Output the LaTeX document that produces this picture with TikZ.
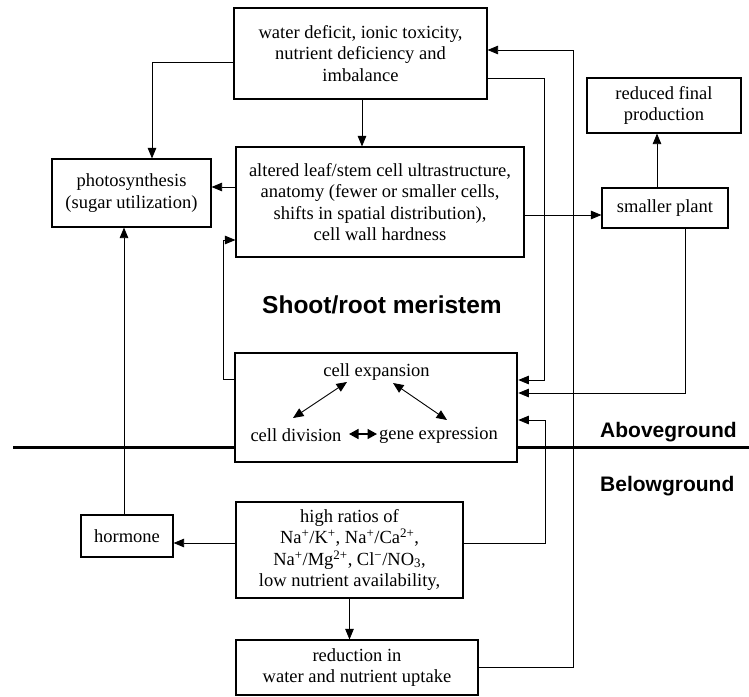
\documentclass[tikz,border=0pt]{standalone}
\usepackage{fontspec}
\setmainfont{Liberation Serif}
\newfontfamily\labfont{Liberation Sans}
\usetikzlibrary{arrows.meta}
\tikzset{
  box/.style={draw, line width=1.1pt, rectangle, inner sep=0pt, align=center,
    font=\fontsize{18.5}{21.5}\selectfont},
  thickbox/.style={box, line width=2.6pt},
  plain/.style={inner sep=0pt, font=\fontsize{18.5}{21.5}\selectfont},
  arr/.style={line width=0.8pt, -{Triangle[length=10.5pt,width=8.5pt]}},
  dbl/.style={line width=0.9pt, {Triangle[length=10.5pt,width=9pt]}-{Triangle[length=10.5pt,width=9pt]}},
  fatdbl/.style={line width=1.5pt, {Triangle[length=9.5pt,width=10pt]}-{Triangle[length=9.5pt,width=10pt]}},
  ground/.style={line width=3pt},
  lab/.style={inner sep=0pt, font=\labfont\bfseries\fontsize{21}{24}\selectfont}
}
\begin{document}
\begin{tikzpicture}[x=1pt,y=-1pt]
\useasboundingbox (0,0) rectangle (749,696);

% boxes
\node[box, minimum width=253pt, minimum height=91pt] (top) at (360.5,53.5)
  {water deficit, ionic toxicity,\\ nutrient deficiency and\\ imbalance};
\node[box, minimum width=159pt, minimum height=68pt] (photo) at (131.5,193)
  {photosynthesis\\ (sugar utilization)};
\node[box, minimum width=288pt, minimum height=110pt] (alt) at (380,202)
  {altered leaf/stem cell ultrastructure,\\ anatomy (fewer or smaller cells,\\ shifts in spatial distribution),\\ cell wall hardness};
\node[box, minimum width=154pt, minimum height=55pt] (reduced) at (664,105.5)
  {reduced final\\ production};
\node[box, minimum width=126pt, minimum height=40pt] (smaller) at (665,208)
  {smaller plant};
\node[thickbox, minimum width=282pt, minimum height=109pt] (cell) at (376,407.5) {};
\node[box, minimum width=92pt, minimum height=42pt] (hormone) at (127,536)
  {hormone};
\node[box, minimum width=227pt, minimum height=96pt] (ratios) at (349.5,550)
  {high ratios of\\
   Na\textsuperscript{+}/K\textsuperscript{+}, Na\textsuperscript{+}/Ca\textsuperscript{2+},\\
   Na\textsuperscript{+}/Mg\textsuperscript{2+}, Cl\textsuperscript{−}/NO\textsubscript{3},\\
   low nutrient availability,};
\node[box, minimum width=242pt, minimum height=55pt] (reduction) at (357,667.5)
  {reduction in\\ water and nutrient uptake};

% inner texts of meristem box
\node[plain] (exp) at (376.5,372) {cell expansion};
\node[plain] (div) at (296,435) {cell division};
\node[plain] (gene) at (438.5,435) {gene expression};
\coordinate (e1) at (347,382);
\coordinate (d1) at (293,418);
\coordinate (e2) at (393,383);
\coordinate (g1) at (447,420);
\coordinate (m1) at (349,434);
\coordinate (m2) at (377,434);
\draw[dbl] (e1) -- (d1);
\draw[dbl] (e2) -- (g1);
\draw[fatdbl] (m1) -- (m2);

% labels
\node[lab, font=\labfont\bfseries\fontsize{24.5}{28}\selectfont, anchor=base west] (shoot) at (262,313) {Shoot/root meristem};
\node[lab, anchor=base west] (above) at (600,437) {Aboveground};
\node[lab, anchor=base west] (below) at (600,491) {Belowground};

% ground line
\coordinate (gl) at (13,447);
\coordinate (gr) at (749,447);
\draw[ground] (gl) -- (gl -| cell.west);
\draw[ground] (gr -| cell.east) -- (gr);

% connectors
\draw[arr] ([yshift=-8.5pt]top.west) -| ([xshift=20.5pt]photo.north);
\draw[arr] ([xshift=1.5pt]top.south) -- ([xshift=1.5pt]top.south |- alt.north);
\draw[arr] ([yshift=15pt]alt.west) -- ([yshift=15pt]alt.west -| photo.east);
\draw[arr] ([yshift=28.5pt]cell.west) -- ++(-10,0) |- ([yshift=-38pt]alt.west);
\draw[arr] ([xshift=-3pt]hormone.north) -- ([xshift=-3pt]hormone.north |- photo.south);
\draw[arr] ([yshift=7pt]ratios.west) -- ([yshift=7pt]ratios.west -| hormone.east);
\draw[arr] ([yshift=7pt]ratios.east) -- ++(82,0) |- ([yshift=-12.5pt]cell.east);
\draw[arr] (ratios.south) -- (ratios.south |- reduction.north);
\draw[arr] (reduction.east) -- ++(95,0) |- ([yshift=3.5pt]top.east);
\draw[arr] ([yshift=-24.5pt]top.east) -- ++(57,0) |- ([yshift=27.5pt]cell.east);
\draw[arr] ([yshift=-13pt]alt.east) -- ([yshift=-13pt]alt.east -| smaller.west);
\draw[arr] ([xshift=20pt]smaller.south) |- ([yshift=14.5pt]cell.east);
\draw[arr] ([xshift=-8pt]smaller.north) -- ([xshift=-8pt]smaller.north |- reduced.south);
\end{tikzpicture}
\end{document}
